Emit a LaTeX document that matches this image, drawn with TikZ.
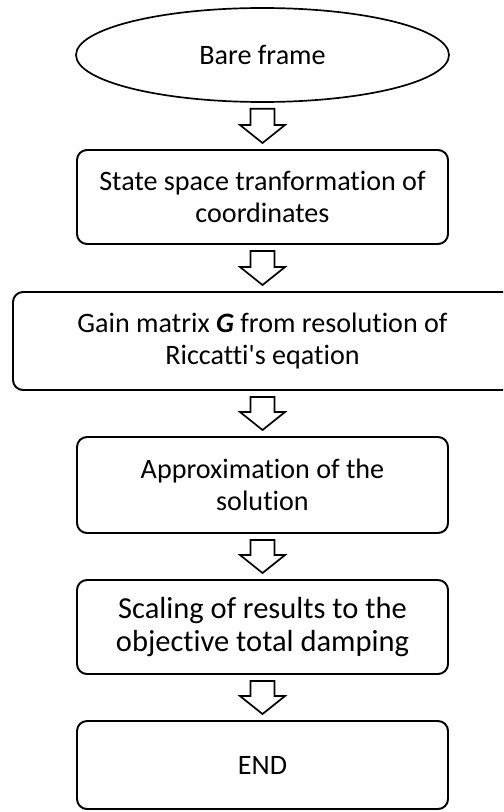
\documentclass[tikz,border=0pt]{standalone}
\usepackage{fontspec}
\setmainfont{Carlito}[Ligatures={NoCommon}]
\usetikzlibrary{shapes.geometric,calc}

% hollow block arrow from the bottom of one node to the top of the next
\newcommand{\hollowdown}[2]{%
  \draw[hollow] let \p1=(#1.south), \p2=(#2.north) in
    (\x1-0.3cm,\y1-0.15cm) -- (\x1+0.3cm,\y1-0.15cm) -- (\x1+0.3cm,\y2+0.6cm)
    -- (\x1+0.5625cm,\y2+0.6cm) -- (\x1,\y2+0.15cm) -- (\x1-0.5625cm,\y2+0.6cm)
    -- (\x1-0.3cm,\y2+0.6cm) -- cycle;}

\begin{document}
\begin{tikzpicture}[
          box/.style={draw, rounded corners=0.25cm, line width=1.4pt, inner sep=0,
                      minimum width=9.275cm, minimum height=2.35cm, align=center,
                      font=\fontsize{20}{22.8}\selectfont},
          startnode/.style={draw, ellipse, line width=1.2pt, inner sep=0,
                      minimum width=9.325cm, minimum height=2.35cm,
                      font=\fontsize{20}{22.8}\selectfont},
          hollow/.style={draw, line width=1.2pt, line join=miter}
        ]
        \useasboundingbox (0,0) rectangle (12.575,-20.3);
        \clip (0,0) rectangle (12.575,-20.3);

        % ---- start ----
        \node[startnode] (bare) at (6.5625,-1.375) {Bare frame};

        % ---- steps ----
        \node[box] (state) at (6.5625,-4.925)
          {State space tranformation of\\coordinates};
        \node[box, minimum width=12.475cm, minimum height=2.45cm] (gain) at (6.5625,-8.525)
          {Gain matrix \textbf{\textit{G}} from resolution of\\Riccatti\textquotesingle s eqation};
        \node[box, minimum height=2.4cm] (approx) at (6.5625,-12.125)
          {Approximation of the\\solution};
        \node[box, font=\fontsize{21.7}{23.5}\selectfont] (scale) at (6.5625,-15.675)
          {Scaling of results to the\\objective total damping};

        % ---- end ----
        \node[box, minimum height=2.2cm] (finish) at (6.5625,-19.125) {END};

        % ---- arrows ----
        \hollowdown{bare}{state}
        \hollowdown{state}{gain}
        \hollowdown{gain}{approx}
        \hollowdown{approx}{scale}
        \hollowdown{scale}{finish}

      \end{tikzpicture}
\end{document}
